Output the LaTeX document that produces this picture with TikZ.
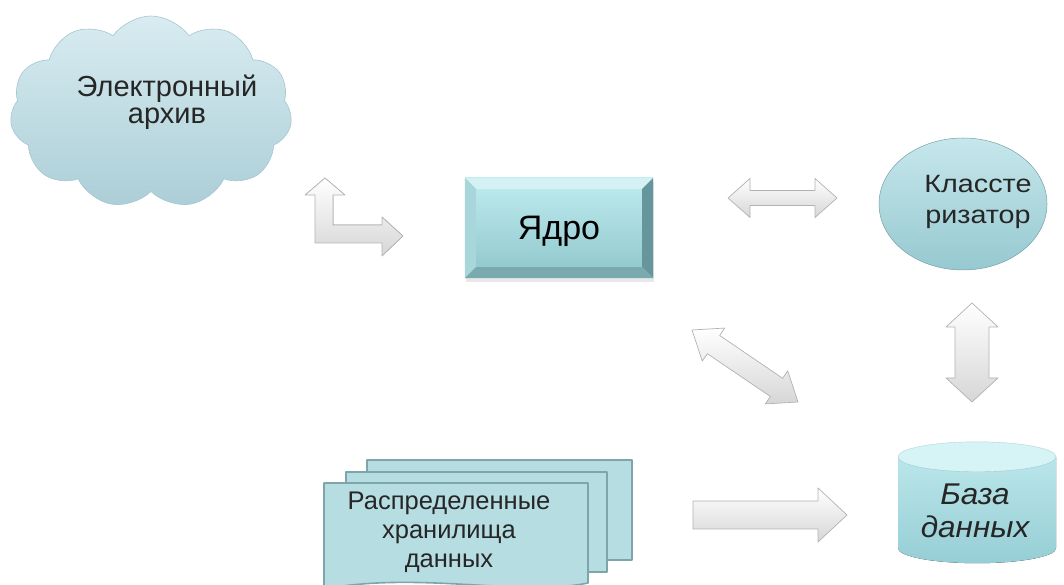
\documentclass[tikz,border=0pt]{standalone}
\usepackage{fontspec}
\setmainfont{Liberation Sans}
\usepackage{graphicx}
\usetikzlibrary{calc, shapes.symbols, shapes.geometric, shadows}
\definecolor{cloudtop}{RGB}{216,236,241}
\definecolor{cloudbot}{RGB}{172,206,215}
\definecolor{cloudedge}{RGB}{165,198,207}
\definecolor{coretop}{RGB}{192,236,240}
\definecolor{corebot}{RGB}{142,198,203}
\definecolor{bevellight}{RGB}{212,242,244}
\definecolor{bevelleft}{RGB}{168,214,218}
\definecolor{beveldark}{RGB}{102,150,155}
\definecolor{bevelbot}{RGB}{122,170,175}
\definecolor{balltop}{RGB}{198,231,236}
\definecolor{ballbot}{RGB}{150,201,208}
\definecolor{dbtop}{RGB}{214,243,246}
\definecolor{dbbody}{RGB}{186,230,234}
\definecolor{dbbodybot}{RGB}{150,206,213}
\definecolor{sheet}{RGB}{182,221,226}
\definecolor{sheetedge}{RGB}{125,165,170}
\definecolor{arrowedge}{RGB}{178,178,178}

% text lines: x-stretch, font size, line skip, lines
\newcommand\boxtext[4]{\scalebox{#1}[1]{\fontsize{#2}{#3}\selectfont
  \begin{tabular}[t]{@{}c@{}}#4\end{tabular}}}

% block arrow with two heads: from, to, head length, head half width, shaft half width
\newcommand\dblarrow[5]{%
  \path (#1) coordinate (ba-s) (#2) coordinate (ba-e)
    ($(ba-s)!#3!(ba-e)$) coordinate (ba-p)
    ($(ba-e)!#3!(ba-s)$) coordinate (ba-q);
  \draw[blockarrow] (ba-s) -- ($(ba-p)!#4!90:(ba-e)$) -- ($(ba-p)!#5!90:(ba-e)$)
    -- ($(ba-q)!#5!-90:(ba-s)$) -- ($(ba-q)!#4!-90:(ba-s)$) -- (ba-e)
    -- ($(ba-q)!#4!90:(ba-s)$) -- ($(ba-q)!#5!90:(ba-s)$)
    -- ($(ba-p)!#5!-90:(ba-e)$) -- ($(ba-p)!#4!-90:(ba-e)$) -- cycle;
}
% block arrow with one head, same arguments
\newcommand\onearrow[5]{%
  \path (#1) coordinate (ba-s) (#2) coordinate (ba-e)
    ($(ba-e)!#3!(ba-s)$) coordinate (ba-q);
  \draw[blockarrow] ($(ba-s)!#5!90:(ba-e)$) -- ($(ba-q)!#5!-90:(ba-s)$)
    -- ($(ba-q)!#4!-90:(ba-s)$) -- (ba-e) -- ($(ba-q)!#4!90:(ba-s)$)
    -- ($(ba-q)!#5!90:(ba-s)$) -- ($(ba-s)!#5!-90:(ba-e)$) -- cycle;
}

\begin{document}
\begin{tikzpicture}[x=1pt, y=1pt, line cap=round, line join=round,
	archivecloud/.style={cloud, cloud puffs=11, cloud puff arc=110, aspect=1.47,
		minimum width=282pt, minimum height=192pt, inner sep=0pt,
		top color=cloudtop, bottom color=cloudbot, draw=cloudedge, line width=0.6pt},
	corebox/.style={rectangle, minimum width=188pt, minimum height=100pt,
		top color=coretop, bottom color=corebot,
		drop shadow={opacity=0.18, shadow xshift=1pt, shadow yshift=-4pt}},
	clusterball/.style={ellipse, minimum width=168pt, minimum height=132pt,
		top color=balltop, bottom color=ballbot, draw=ballbot!80!black, line width=0.5pt},
	dbshape/.style={rectangle, minimum width=158pt, minimum height=121pt, inner sep=0pt},
	sheetbox/.style={rectangle, fill=sheet, draw=sheetedge, line width=1.6pt, inner sep=0pt},
	blockarrow/.style={top color=white, bottom color=gray!32, draw=arrowedge, line width=0.7pt},
	labeltext/.style={anchor=base, inner sep=0pt, text=black!85}]
	\useasboundingbox (0,0) rectangle (1064,585);

	% electronic archive
	\node[archivecloud] (archive) at (151,473) {};
	\node[labeltext] (archive-text) at (167,488) {\boxtext{1}{29}{27}{Электронный\\архив}};

	% bevelled core box
	\node[corebox, text height=24pt, text depth=0pt] (core) at (559,357)
		{\fontsize{34}{34}\selectfont Ядро};
	\path (core.north west) coordinate (c-nw) (core.north east) coordinate (c-ne)
		(core.south east) coordinate (c-se) (core.south west) coordinate (c-sw)
		($(c-nw)+(11,-11)$) coordinate (i-nw) ($(c-ne)+(-11,-11)$) coordinate (i-ne)
		($(c-se)+(-11,11)$) coordinate (i-se) ($(c-sw)+(11,11)$) coordinate (i-sw);
	\fill[bevellight] (c-nw) -- (c-ne) -- (i-ne) -- (i-nw) -- cycle;
	\fill[bevelleft] (c-nw) -- (i-nw) -- (i-sw) -- (c-sw) -- cycle;
	\fill[beveldark] (c-ne) -- (c-se) -- (i-se) -- (i-ne) -- cycle;
	\fill[bevelbot] (c-sw) -- (i-sw) -- (i-se) -- (c-se) -- cycle;

	% clusterizer
	\node[clusterball] (clusterizer) at (963,381) {};
	\node[labeltext] (clusterizer-text) at (978,392) {\boxtext{1.15}{25}{31}{Классте\\ризатор}};

	% database cylinder
	\node[dbshape] (database) at (977,82.5) {};
	\path ($(database.north)+(0,-15)$) coordinate (db-top)
		($(database.south)+(0,15)$) coordinate (db-bot);
	\fill[top color=dbbody, bottom color=dbbodybot]
		($(db-top)+(-79,0)$) -- ($(db-bot)+(-79,0)$)
		arc[start angle=180, end angle=360, x radius=79, y radius=15]
		-- ($(db-top)+(79,0)$) -- cycle;
	\fill[dbtop] (db-top) ellipse[x radius=79, y radius=15];
	\draw[dbbodybot!85!black, line width=0.4pt, opacity=0.5]
		(db-top) ellipse[x radius=79, y radius=15];
	\node[labeltext] (database-text) at (975,80) {\boxtext{1.05}{30}{33}{\itshape База\\\itshape данных}};

	% distributed storages, three sheets
	\node[sheetbox, minimum width=265pt, minimum height=100pt] (storage-back) at (499.5,75) {};
	\node[sheetbox, minimum width=261pt, minimum height=100pt] (storage-mid) at (476.5,63) {};
	\filldraw[fill=sheet, draw=sheetedge, line width=1.6pt]
		(324,102) -- (588,102) -- (588,2) .. controls (520,-12) and (420,14) .. (324,-4) -- cycle;
	\node[labeltext] (storage) at (449,75)
		{\boxtext{1}{25.5}{29}{Распределенные\\хранилища\\данных}};

	% links
	\filldraw[blockarrow] (325,407) -- (345,390) -- (333,390) -- (333,360) -- (382,360)
		-- (382,368) -- (403,349) -- (382,329) -- (382,342) -- (315,342)
		-- (315,390) -- (305,390) -- cycle;
	\coordinate (cc-a) at (728,387);
	\coordinate (cc-b) at (837,387);
	\dblarrow{cc-a}{cc-b}{22pt}{19.5pt}{7.5pt}
	\coordinate (cd-a) at (692,255);
	\coordinate (cd-b) at (798,183);
	\dblarrow{cd-a}{cd-b}{26pt}{20pt}{11pt}
	\coordinate (kd-a) at (972,282);
	\coordinate (kd-b) at (972,183);
	\dblarrow{kd-a}{kd-b}{24pt}{26pt}{17pt}
	\coordinate (sd-a) at (693,70);
	\coordinate (sd-b) at (847,70);
	\onearrow{sd-a}{sd-b}{29pt}{27pt}{14pt}
\end{tikzpicture}
\end{document}
